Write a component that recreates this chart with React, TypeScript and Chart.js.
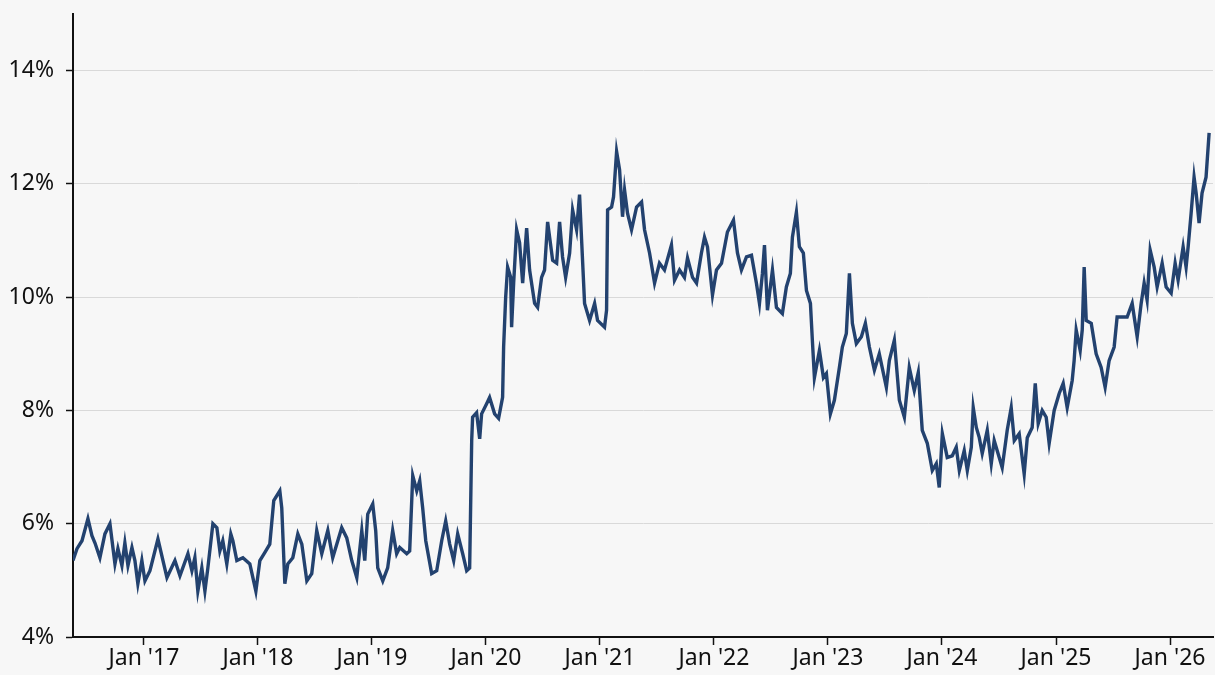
import React, { useEffect, useRef } from "react";
import { Chart, registerables } from "chart.js";

Chart.register(...registerables);

// Time as decimal years
const DATES: number[] = [
  2016.378, 2016.413, 2016.457, 2016.509, 2016.544, 2016.571, 2016.614, 2016.658, 2016.702, 2016.728,
  2016.746, 2016.772, 2016.807, 2016.833, 2016.86, 2016.895, 2016.921, 2016.947, 2016.982, 2017.009,
  2017.053, 2017.123, 2017.202, 2017.272, 2017.316, 2017.386, 2017.421, 2017.447, 2017.473, 2017.508,
  2017.535, 2017.561, 2017.605, 2017.64, 2017.666, 2017.692, 2017.727, 2017.762, 2017.78, 2017.815,
  2017.868, 2017.929, 2017.982, 2018.017, 2018.06, 2018.104, 2018.139, 2018.192, 2018.209, 2018.236,
  2018.262, 2018.306, 2018.35, 2018.385, 2018.429, 2018.472, 2018.516, 2018.56, 2018.613, 2018.656,
  2018.735, 2018.779, 2018.823, 2018.867, 2018.911, 2018.937, 2018.963, 2019.007, 2019.033, 2019.051,
  2019.095, 2019.138, 2019.182, 2019.217, 2019.244, 2019.305, 2019.331, 2019.358, 2019.393, 2019.419,
  2019.445, 2019.472, 2019.524, 2019.568, 2019.612, 2019.647, 2019.682, 2019.717, 2019.752, 2019.796,
  2019.831, 2019.857, 2019.875, 2019.883, 2019.918, 2019.945, 2019.962, 2020.006, 2020.032, 2020.076,
  2020.111, 2020.146, 2020.155, 2020.173, 2020.19, 2020.217, 2020.225, 2020.243, 2020.269, 2020.295,
  2020.322, 2020.357, 2020.383, 2020.427, 2020.453, 2020.488, 2020.514, 2020.541, 2020.585, 2020.62,
  2020.646, 2020.672, 2020.699, 2020.734, 2020.76, 2020.795, 2020.821, 2020.839, 2020.865, 2020.909,
  2020.953, 2020.979, 2021.04, 2021.058, 2021.067, 2021.102, 2021.119, 2021.146, 2021.172, 2021.198,
  2021.216, 2021.242, 2021.277, 2021.321, 2021.365, 2021.391, 2021.435, 2021.479, 2021.522, 2021.566,
  2021.627, 2021.654, 2021.698, 2021.741, 2021.768, 2021.812, 2021.847, 2021.89, 2021.917, 2021.943,
  2021.987, 2022.022, 2022.066, 2022.118, 2022.171, 2022.206, 2022.241, 2022.285, 2022.329, 2022.372,
  2022.399, 2022.425, 2022.443, 2022.469, 2022.513, 2022.548, 2022.6, 2022.635, 2022.67, 2022.688,
  2022.723, 2022.749, 2022.784, 2022.811, 2022.846, 2022.863, 2022.881, 2022.925, 2022.96, 2022.986,
  2023.021, 2023.056, 2023.1, 2023.126, 2023.161, 2023.188, 2023.214, 2023.249, 2023.293, 2023.328,
  2023.363, 2023.407, 2023.45, 2023.512, 2023.538, 2023.582, 2023.626, 2023.67, 2023.713, 2023.757,
  2023.792, 2023.827, 2023.871, 2023.915, 2023.95, 2023.976, 2024.003, 2024.046, 2024.09, 2024.125,
  2024.152, 2024.195, 2024.222, 2024.257, 2024.274, 2024.301, 2024.327, 2024.353, 2024.397, 2024.432,
  2024.458, 2024.502, 2024.528, 2024.572, 2024.607, 2024.634, 2024.677, 2024.721, 2024.748, 2024.791,
  2024.818, 2024.844, 2024.879, 2024.914, 2024.94, 2024.984, 2025.028, 2025.063, 2025.098, 2025.142,
  2025.159, 2025.177, 2025.212, 2025.23, 2025.247, 2025.265, 2025.309, 2025.352, 2025.396, 2025.431,
  2025.466, 2025.51, 2025.536, 2025.58, 2025.624, 2025.668, 2025.712, 2025.747, 2025.773, 2025.799,
  2025.826, 2025.861, 2025.887, 2025.931, 2025.966, 2026.01, 2026.045, 2026.071, 2026.115, 2026.141,
  2026.159, 2026.185, 2026.211, 2026.229, 2026.255, 2026.281, 2026.316, 2026.343,
];

// Rate, percent
const RATE: number[] = [
  5.35, 5.56, 5.7, 6.09, 5.79, 5.66, 5.4, 5.82, 6.0, 5.58,
  5.29, 5.56, 5.26, 5.66, 5.26, 5.58, 5.35, 4.94, 5.35, 4.99,
  5.17, 5.73, 5.05, 5.35, 5.08, 5.47, 5.17, 5.4, 4.81, 5.22,
  4.81, 5.22, 6.0, 5.93, 5.52, 5.7, 5.29, 5.82, 5.7, 5.35,
  5.4, 5.29, 4.81, 5.35, 5.49, 5.64, 6.41, 6.58, 6.28, 4.94,
  5.29, 5.4, 5.82, 5.64, 4.99, 5.12, 5.88, 5.47, 5.88, 5.4,
  5.93, 5.75, 5.35, 5.05, 5.88, 5.35, 6.17, 6.35, 5.88, 5.22,
  4.99, 5.22, 5.88, 5.47, 5.58, 5.47, 5.52, 6.85, 6.58, 6.76,
  6.28, 5.7, 5.12, 5.17, 5.7, 6.05, 5.64, 5.35, 5.82, 5.47,
  5.17, 5.22, 7.47, 7.88, 7.96, 7.5, 7.94, 8.12, 8.23, 7.94,
  7.86, 8.23, 9.12, 10.0, 10.53, 10.35, 9.47, 10.25, 11.19, 10.96,
  10.25, 11.22, 10.48, 9.89, 9.82, 10.35, 10.48, 11.33, 10.65, 10.6,
  11.33, 10.71, 10.35, 10.78, 11.54, 11.19, 11.81, 11.01, 9.89, 9.59,
  9.89, 9.59, 9.47, 9.77, 11.54, 11.59, 11.77, 12.57, 12.25, 11.42,
  11.89, 11.48, 11.19, 11.59, 11.68, 11.19, 10.78, 10.25, 10.6, 10.48,
  10.92, 10.3, 10.48, 10.35, 10.69, 10.35, 10.25, 10.78, 11.06, 10.89,
  10.04, 10.48, 10.6, 11.15, 11.36, 10.78, 10.48, 10.71, 10.74, 10.25,
  9.89, 10.42, 10.92, 9.77, 10.48, 9.82, 9.71, 10.18, 10.42, 11.06,
  11.5, 10.89, 10.78, 10.12, 9.89, 9.24, 8.58, 9.06, 8.58, 8.65,
  7.94, 8.18, 8.76, 9.12, 9.36, 10.42, 9.54, 9.18, 9.3, 9.54,
  9.12, 8.71, 9.0, 8.41, 8.88, 9.24, 8.18, 7.88, 8.76, 8.35,
  8.67, 7.65, 7.42, 6.94, 7.06, 6.64, 7.59, 7.17, 7.2, 7.35,
  6.94, 7.29, 6.94, 7.35, 8.05, 7.7, 7.52, 7.24, 7.65, 7.06,
  7.47, 7.17, 6.99, 7.65, 8.05, 7.47, 7.59, 6.88, 7.52, 7.7,
  8.48, 7.77, 8.0, 7.88, 7.42, 8.0, 8.3, 8.48, 8.05, 8.53,
  8.88, 9.42, 9.06, 9.42, 10.53, 9.59, 9.54, 9.0, 8.76, 8.41,
  8.88, 9.12, 9.65, 9.65, 9.65, 9.89, 9.3, 9.89, 10.25, 9.95,
  10.83, 10.53, 10.18, 10.6, 10.18, 10.07, 10.6, 10.3, 10.89, 10.53,
  10.89, 11.48, 12.12, 11.84, 11.31, 11.84, 12.12, 12.9,
];

const X_TICKS: number[] = [2017, 2018, 2019, 2020, 2021, 2022, 2023, 2024, 2025, 2026];
const Y_TICKS: number[] = [4, 6, 8, 10, 12, 14];

export default function App() {
  const ref = useRef<HTMLCanvasElement | null>(null);

  useEffect(() => {
    if (!ref.current) return;
    const font = { family: "'Noto Sans', sans-serif", size: 23 };
    const chart = new Chart(ref.current, {
      type: "line",
      data: {
        datasets: [
          {
            data: DATES.map((d, i) => ({ x: d, y: RATE[i] })),
            borderColor: "#23426f",
            borderWidth: 3.4,
            pointRadius: 0,
            tension: 0,
            borderJoinStyle: "miter",
          },
        ],
      },
      options: {
        responsive: false,
        maintainAspectRatio: false,
        animation: false,
        layout: { padding: { top: 14, right: 2, left: 0, bottom: 0 } },
        plugins: { legend: { display: false }, tooltip: { enabled: false }, title: { display: false } },
        scales: {
          x: {
            type: "linear",
            min: 2016.378,
            max: 2026.377,
            afterBuildTicks: (s: any) => {
              s.ticks = X_TICKS.map((v) => ({ value: v }));
            },
            afterFit: (s: any) => {
              s.height = 38;
              s.paddingLeft = 0;
              s.paddingRight = 0;
            },
            ticks: {
              color: "#111",
              font,
              padding: 0,
              maxRotation: 0,
              autoSkip: false,
              callback: (v: any) => "Jan '" + String(v).slice(2),
            },
            grid: { display: true, drawOnChartArea: false, tickLength: 8, tickColor: "#111", tickWidth: 1.5 },
            border: { display: true, color: "#111", width: 2 },
          },
          y: {
            type: "linear",
            min: 4,
            max: 15,
            afterBuildTicks: (s: any) => {
              s.ticks = Y_TICKS.map((v) => ({ value: v }));
            },
            afterFit: (s: any) => {
              s.width = 73;
              s.paddingTop = 0;
              s.paddingBottom = 0;
            },
            ticks: {
              color: "#111",
              font,
              padding: 12,
              callback: (v: any) => v + "%",
            },
            grid: { color: "#d9d9d9", lineWidth: 1, tickLength: 7, tickColor: "#111", tickWidth: 1.5 },
            border: { display: true, color: "#111", width: 2 },
          },
        },
      },
    });
    return () => chart.destroy();
  }, []);

  return (
    <div style={{ position: "fixed", left: 0, top: 0, width: 1215, height: 675, background: "#f7f7f7" }}>
      <canvas ref={ref} width={1215} height={675} style={{ display: "block" }} />
    </div>
  );
}
